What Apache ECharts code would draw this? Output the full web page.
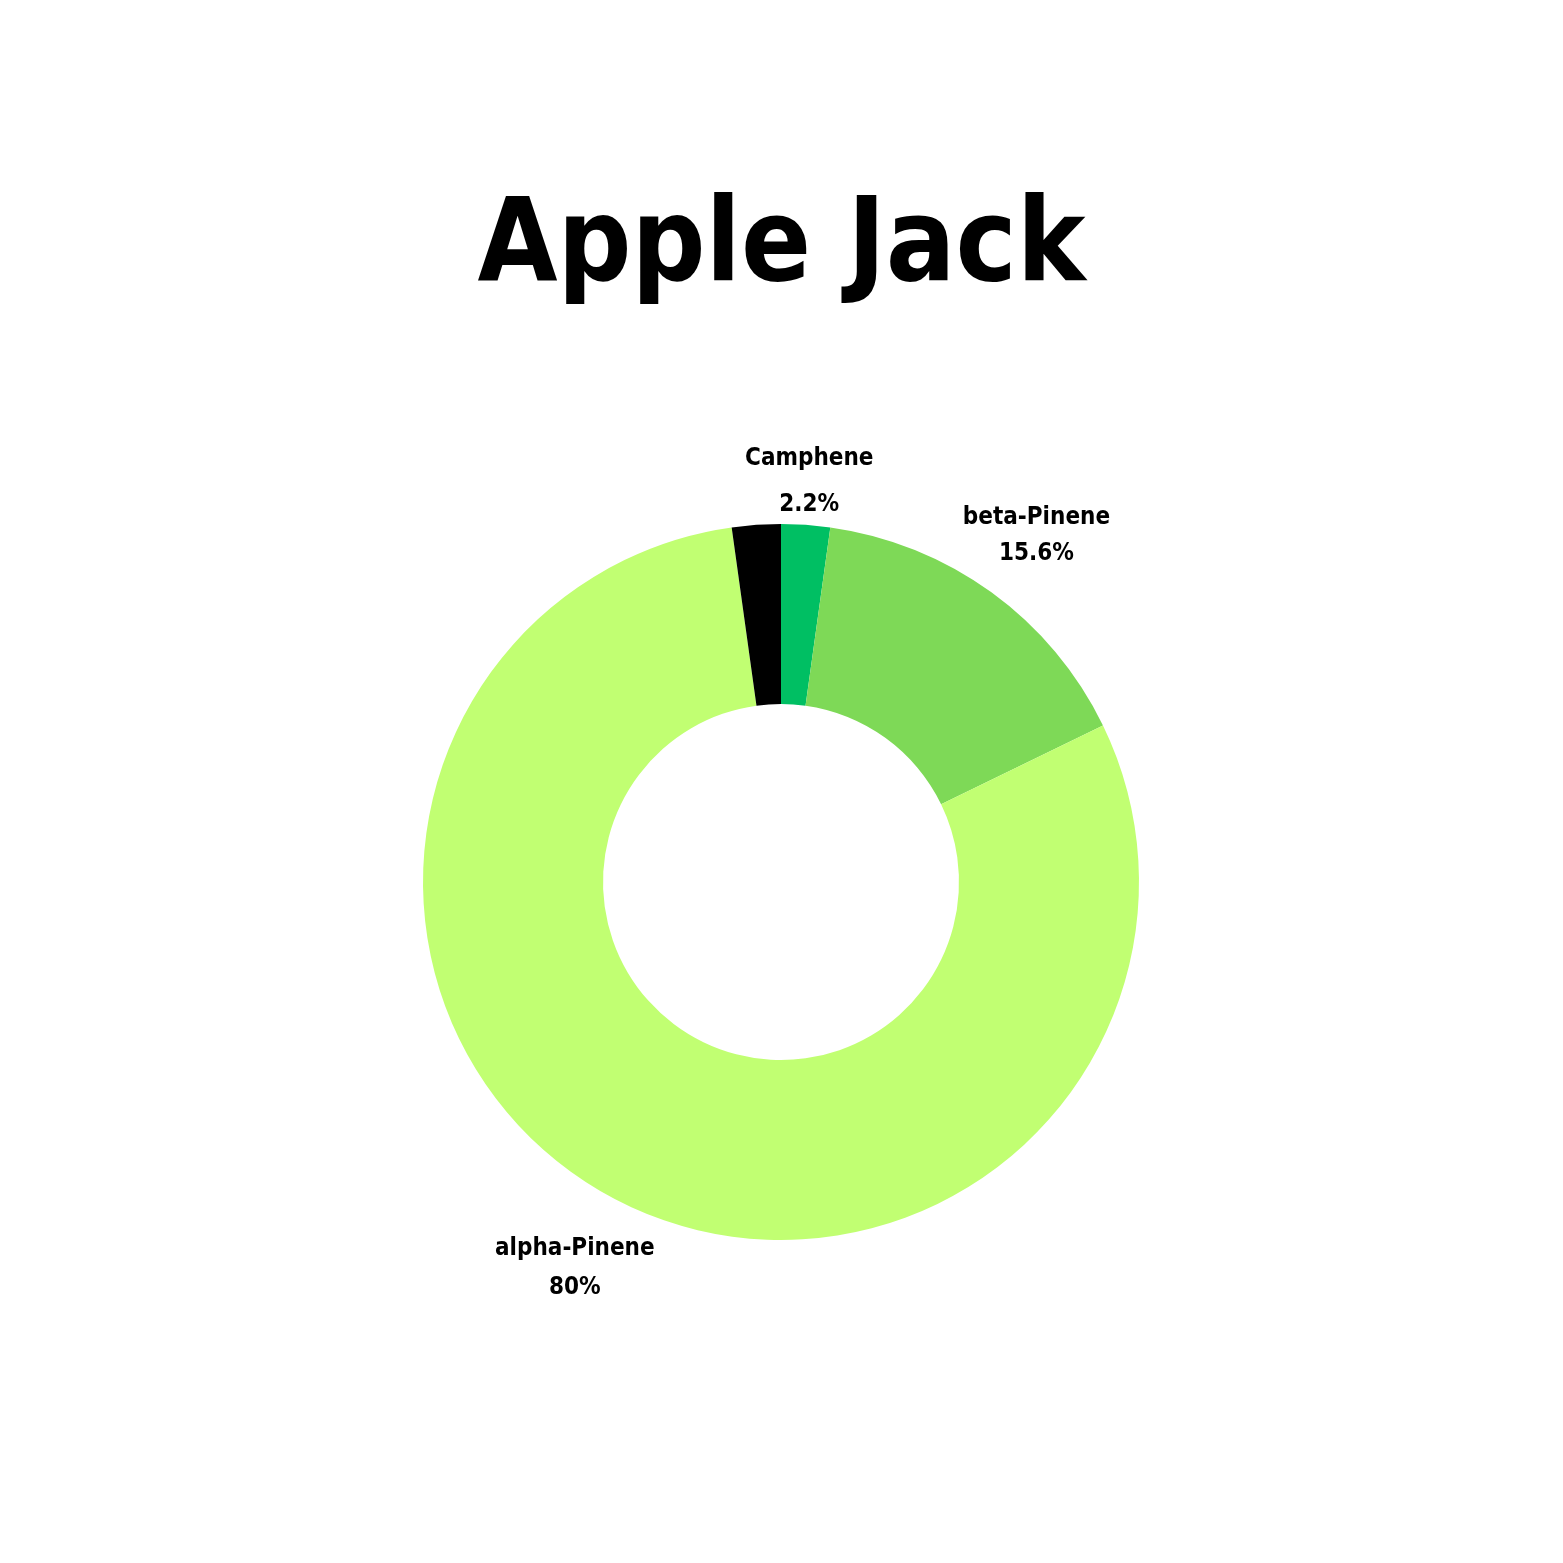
<!DOCTYPE html>
<html>
<head>
<meta charset="utf-8">
<script src="https://cdn.jsdelivr.net/npm/echarts@6/dist/echarts.min.js"></script>
<style>
html,body{margin:0;padding:0;background:#fff;}
#chart{width:1563px;height:1563px;}
</style>
</head>
<body>
<div id="chart"></div>
<script>
const titleText = 'Apple Jack';
const categories = ['Camphene', 'beta-Pinene', 'alpha-Pinene', 'Other'];
const values = [2.2, 15.6, 80, 2.2];
const colors = ['#00bf63', '#7ed957', '#c1ff72', '#000000'];
const showLabel = [true, true, true, false];

const FONT = "'DejaVu Sans Condensed', 'Liberation Sans Narrow', sans-serif";
const chart = echarts.init(document.getElementById('chart'), null, {renderer: 'canvas'});

const mainData = categories.map((c, i) => ({
  name: c, value: values[i], itemStyle: {color: colors[i]}
}));
const labelData = categories.map((c, i) => {
  const item = {name: c, value: values[i], itemStyle: {color: 'rgba(0,0,0,0)'}, label: {show: showLabel[i]}};
  if (i === 0) { item.label.offset = [-2, 37]; item.label.lineHeight = 46; }
  if (i === 1) { item.label.offset = [-2, 8]; item.label.lineHeight = 36; }
  return item;
});

chart.setOption({
  backgroundColor: '#ffffff',
  animation: false,
  title: {
    text: titleText,
    left: 'center',
    top: 188,
    textStyle: {
      fontFamily: FONT,
      fontWeight: 'bold',
      fontSize: 115,
      color: '#000'
    }
  },
  series: [
    {
      type: 'pie',
      center: [781, 882],
      radius: [178, 358],
      startAngle: 90,
      clockwise: true,
      silent: true,
      label: {show: false},
      labelLine: {show: false},
      emphasis: {disabled: true},
      data: mainData
    },
    {
      type: 'pie',
      center: [781, 882],
      radius: [402, 468],
      startAngle: 90,
      clockwise: true,
      silent: true,
      avoidLabelOverlap: false,
      emphasis: {disabled: true},
      labelLine: {show: false},
      label: {
        show: true,
        position: 'inside',
        formatter: '{b}\n{c}%',
        fontFamily: FONT,
        fontWeight: 'bold',
        fontSize: 24,
        lineHeight: 39,
        color: '#000',
        align: 'center'
      },
      data: labelData
    }
  ]
});
</script>
</body>
</html>
